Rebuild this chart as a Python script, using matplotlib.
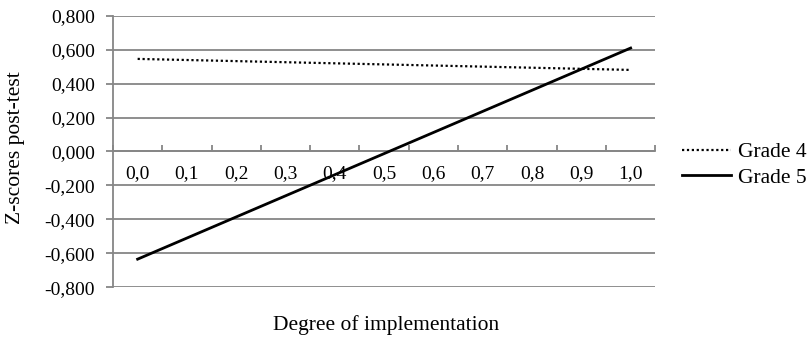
import numpy as np
import matplotlib.pyplot as plt
from matplotlib.ticker import FixedLocator

plt.rcParams["font.family"] = ["Liberation Serif", "DejaVu Serif"]

# data
degree_ticks = [0.0, 0.1, 0.2, 0.3, 0.4, 0.5, 0.6, 0.7, 0.8, 0.9, 1.0]
degree_points = [0.0, 1.0]
grade4 = [0.546, 0.481]
grade5 = [-0.635, 0.610]
y_ticks = [-0.8, -0.6, -0.4, -0.2, 0.0, 0.2, 0.4, 0.6, 0.8]

grey = "#868686"

fig = plt.figure(figsize=(8.07, 3.37), dpi=100)
ax = fig.add_axes([0.140, 0.148, 0.672, 0.805])

for y in y_ticks:
    ax.axhline(y, color=grey, lw=1.3, zorder=1)

ax.plot(degree_points, grade4, color="black", lw=1.6, ls=(0, (1, 1.2)), label="Grade 4", zorder=3)
ax.plot(degree_points, grade5, color="black", lw=2.0, ls="-", label="Grade 5", zorder=3)

ax.set_xlim(-0.05, 1.05)
ax.set_ylim(-0.8, 0.8)

for s in ["top", "right"]:
    ax.spines[s].set_visible(False)
ax.spines["bottom"].set_position(("data", 0))
ax.spines["bottom"].set_color(grey)
ax.spines["bottom"].set_linewidth(1.3)
ax.spines["left"].set_color(grey)
ax.spines["left"].set_linewidth(1.3)

ax.set_xticks(degree_ticks)
ax.set_xticklabels([f"{v:.1f}".replace(".", ",") for v in degree_ticks])
ax.xaxis.set_minor_locator(FixedLocator(np.arange(-0.05, 1.06, 0.1)))
ax.tick_params(axis="x", which="major", length=0, pad=10, labelsize=14)
ax.tick_params(axis="x", which="minor", direction="in", length=4, width=1.3, color=grey)

ax.set_yticks(y_ticks)
ax.set_yticklabels([f"{v:.3f}".replace(".", ",") if v != 0 else "0,000" for v in y_ticks])
ax.tick_params(axis="y", direction="out", length=5, width=1.3, color=grey, pad=8, labelsize=14)

fig.text(0.019, 0.563, "Z-scores post-test", rotation=90, ha="center", va="center", fontsize=15.5)
fig.text(0.479, 0.036, "Degree of implementation", ha="center", va="center", fontsize=15.5)

ax.legend(loc="center left", bbox_to_anchor=(1.013, 0.45), frameon=False, fontsize=15.5,
          handlelength=2.3, handletextpad=0.3, labelspacing=0.25)

fig.savefig("out.png", dpi=100)
